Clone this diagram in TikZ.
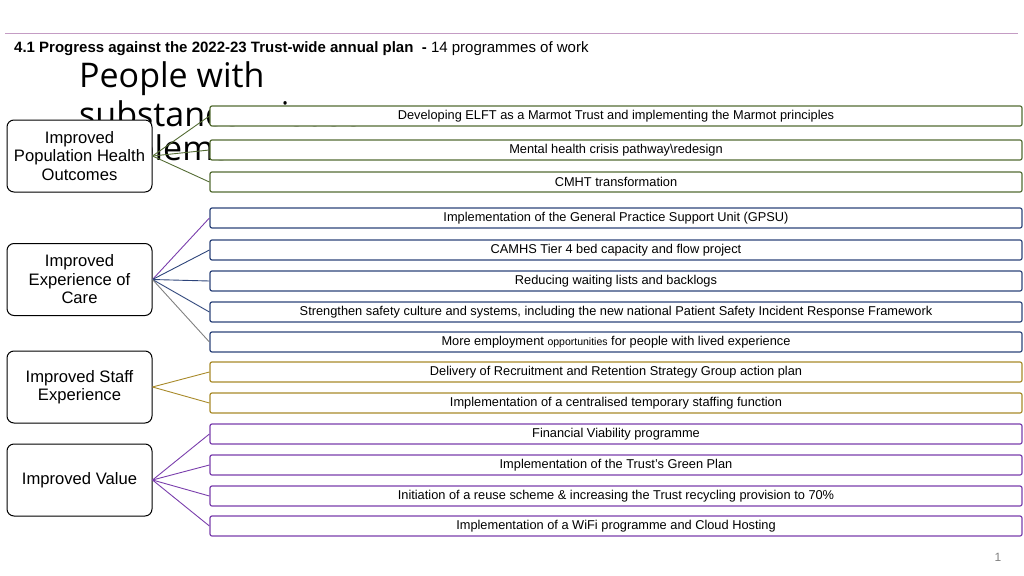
\documentclass[tikz,border=0pt]{standalone}
\usepackage{fontspec}
\setmainfont{Liberation Sans}
\newfontfamily\ghostfont{Open Sans}
\usepackage{xcolor}
\usetikzlibrary{positioning}

\definecolor{popgreen}{RGB}{84,108,52}
\definecolor{carenavy}{RGB}{45,68,122}
\definecolor{staffgold}{RGB}{168,138,42}
\definecolor{valuepurple}{RGB}{122,62,172}
\definecolor{rulepink}{RGB}{196,156,196}

\begin{document}
\begin{tikzpicture}[x=1pt, y=-1pt,
    aim/.style={draw=black, line width=1pt, rounded corners=7pt, fill=white, minimum width=145pt,
      minimum height=72pt, inner sep=1pt, align=center, font=\fontsize{16.6}{18.5}\selectfont},
    prog/.style={draw=#1, line width=1.2pt, rounded corners=2pt, fill=white, minimum width=812pt,
      minimum height=20pt, inner sep=0pt, font=\fontsize{12.8}{14}\selectfont},
    link/.style={draw=#1, line width=0.9pt}
  ]
  \useasboundingbox (0,0) rectangle (1024,575);
  \draw[rulepink, line width=0.8pt] (5,33) -- (1018,33);
  \node[anchor=base west, inner sep=0pt, font=\fontsize{15}{18}\selectfont] (title) at (14,53)
    {\textbf{4.1 Progress against the 2022-23 Trust-wide annual plan \ -} 14 programmes of work};
  % title left behind on the slide
  \node[anchor=base west, inner sep=0pt, align=left, font=\ghostfont\fontsize{34}{36.5}\selectfont] (ghost) at (79,160)
    {People with\\[3pt]substance misuse\\[-3pt]problems};

  % strategic aims
  \node[aim] (pop)   at (79.5,156)   {Improved\\Population Health\\Outcomes};
  \node[aim] (care)  at (79.5,279.5) {Improved\\Experience of\\Care};
  \node[aim] (staff) at (79.5,387)   {Improved Staff\\Experience};
  \node[aim] (value) at (79.5,480)   {Improved Value};

  % programmes of work
  \node[prog=popgreen] (p1) at (616,116) {Developing ELFT as a Marmot Trust and implementing the Marmot principles};
  \node[prog=popgreen] (p2) at (616,150) {Mental health crisis pathway\textbackslash redesign};
  \node[prog=popgreen] (p3) at (616,182) {CMHT transformation};
  \node[prog=carenavy] (p4) at (616,218) {Implementation of the General Practice Support Unit (GPSU)};
  \node[prog=carenavy] (p5) at (616,250) {CAMHS Tier 4 bed capacity and flow project};
  \node[prog=carenavy] (p6) at (616,281) {Reducing waiting lists and backlogs};
  \node[prog=carenavy] (p7) at (616,312) {Strengthen safety culture and systems, including the new national Patient Safety Incident Response Framework};
  \node[prog=carenavy] (p8) at (616,342) {More employment {\fontsize{10.5}{12}\selectfont opportunities} for people with lived experience};
  \node[prog=staffgold] (p9) at (616,372) {Delivery of Recruitment and Retention Strategy Group action plan};
  \node[prog=staffgold] (p10) at (616,403) {Implementation of a centralised temporary staffing function};
  \node[prog=valuepurple] (p11) at (616,434) {Financial Viability programme};
  \node[prog=valuepurple] (p12) at (616,465) {Implementation of the Trust's Green Plan};
  \node[prog=valuepurple] (p13) at (616,496) {Initiation of a reuse scheme \& increasing the Trust recycling provision to 70\%};
  \node[prog=valuepurple] (p14) at (616,526) {Implementation of a WiFi programme and Cloud Hosting};

  \path[link=popgreen]
  (pop.east) edge (p1.west)
             edge (p2.west)
             edge (p3.west);
  \path[link=carenavy]
  (care.east) edge[draw=valuepurple] (p4.west)
              edge (p5.west)
              edge (p6.west)
              edge (p7.west)
              edge[draw=gray] (p8.west);
  \path[link=staffgold]
  (staff.east) edge (p9.west)
               edge (p10.west);
  \path[link=valuepurple]
  (value.east) edge (p11.west)
               edge (p12.west)
               edge (p13.west)
               edge (p14.west);

  \node[text=gray, font=\fontsize{12}{14}\selectfont] (pagenum) at (998,557) {1};
\end{tikzpicture}
\end{document}
